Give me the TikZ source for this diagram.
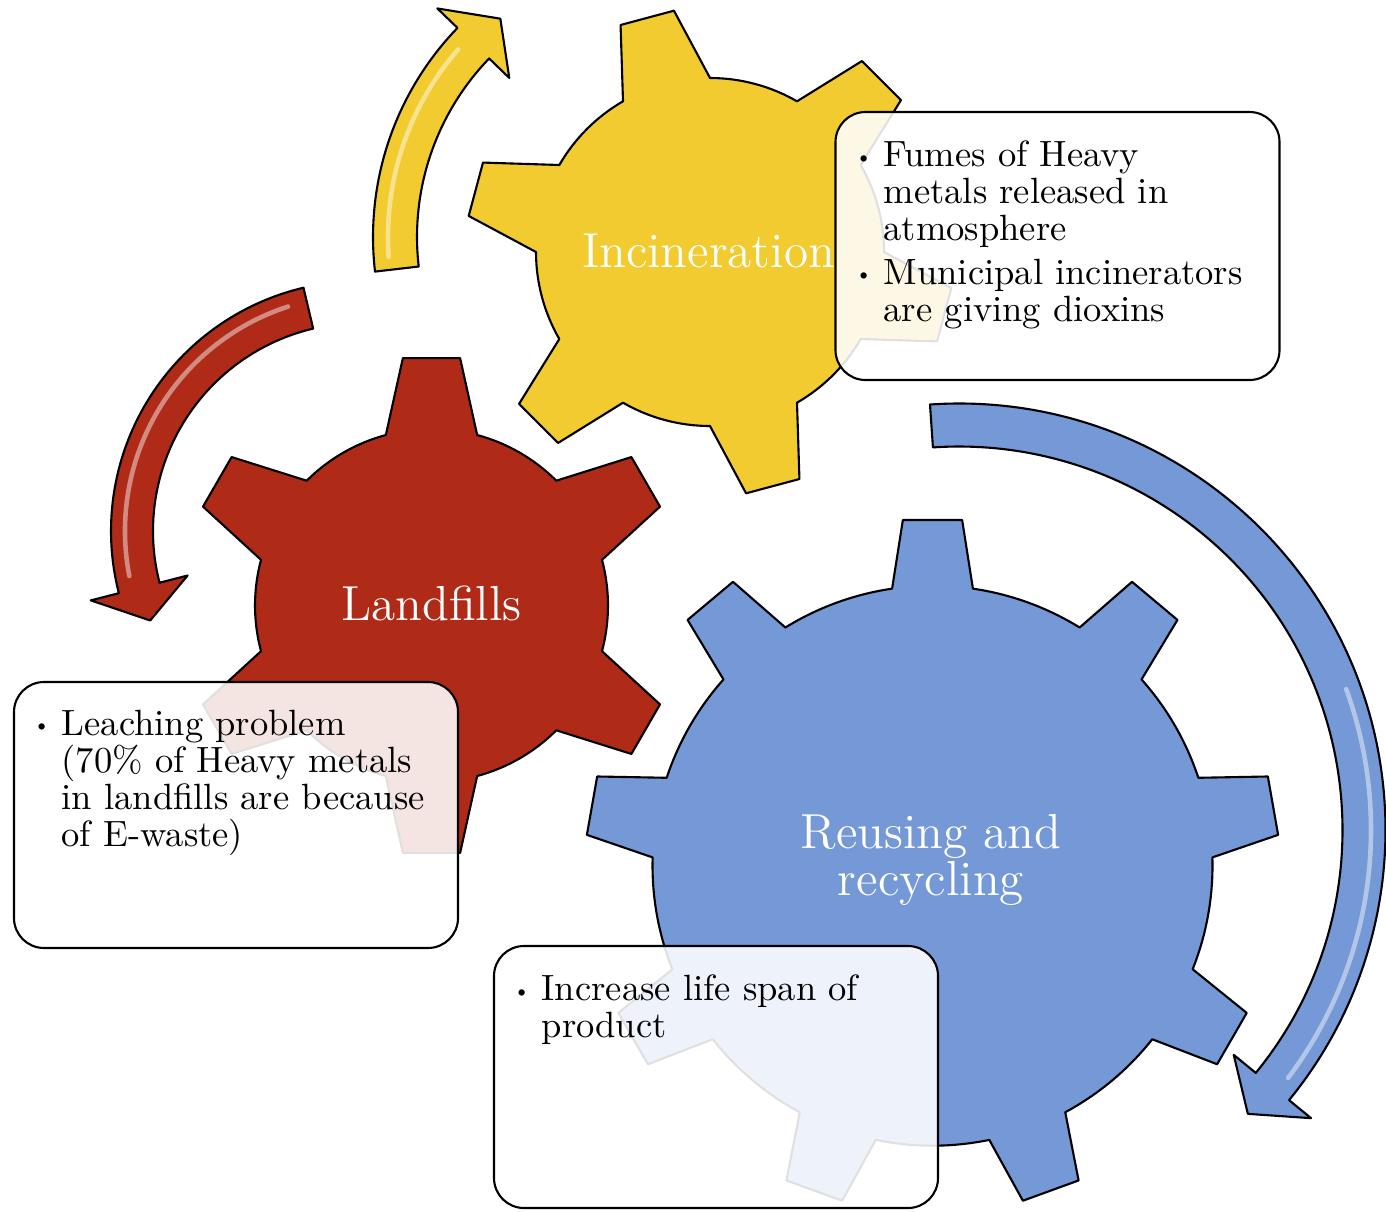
\documentclass[tikz,border=0pt]{standalone}
\usepackage{tikz}
\usepackage{xcolor}
\definecolor{gearyellow}{RGB}{242,203,48}
\definecolor{gearred}{RGB}{175,43,24}
\definecolor{gearblue}{RGB}{117,152,214}
\newcommand{\dotmark}{\llap{\raisebox{0.25ex}{\fontsize{6}{6}\selectfont\textbullet}\hspace{0.28em}}}

\begin{document}
\begin{tikzpicture}[
    outline/.style={draw=black, line width=0.6pt, line join=round},
    gloss/.style={draw=white, draw opacity=0.45, line width=1.3pt, line cap=round},
    gearlabel/.style={text=white, font=\fontsize{14}{13.6}\selectfont, align=center, inner sep=0pt},
    infobox/.style={draw=black, line width=0.6pt, rounded corners=0.3cm, fill=white, fill opacity=0.88, inner sep=0pt, minimum width=4.44cm},
    boxtext/.style={font=\fontsize{10.4}{10.5}\selectfont, align=left, inner sep=0pt, anchor=north west}
  ]
    \useasboundingbox (0,0) rectangle (13.86,12.11);
    \draw[outline, fill=gearyellow, shift={(6.74,9.74)}] (186.6:3.01) arc[start angle=186.6, end angle=136, radius=3.01] -- (136:3.29) -- (128.5:2.79) -- (136:2.29) -- (136:2.57) arc[start angle=136, end angle=186.6, radius=2.57] -- cycle;
    \draw[gloss, shift={(6.74,9.74)}] (184:2.86) arc[start angle=184, end angle=139, radius=2.86];
    \draw[outline, fill=gearred, shift={(3.61,6.80)}] (103.3:2.50) arc[start angle=103.3, end angle=194.4, radius=2.50] -- (194.4:2.79) -- (203:2.29) -- (194.4:1.79) -- (194.4:2.08) arc[start angle=194.4, end angle=103.3, radius=2.08] -- cycle;
    \draw[gloss, shift={(3.61,6.80)}] (108:2.36) arc[start angle=108, end angle=191, radius=2.36];
    \draw[outline, fill=gearblue, shift={(9.59,3.81)}] (93.9:4.265) arc[start angle=93.9, end angle=-39.3, radius=4.265] -- (-39.3:4.55) -- (-44.5:4.05) -- (-39.3:3.55) -- (-39.3:3.835) arc[start angle=-39.3, end angle=93.9, radius=3.835] -- cycle;
    \draw[gloss, shift={(9.59,3.81)}] (20:4.12) arc[start angle=20, end angle=-37, radius=4.12];
    \draw[outline, fill=gearred, shift={(4.315,6.055)}] (15:1.765)
      \foreach \a in {30,90,...,330} { -- ({\a-15}:1.765) -- ({\a-6.6}:2.49) -- ({\a+6.6}:2.49) -- ({\a+15}:1.765) arc[start angle=\a+15, end angle=\a+45, radius=1.765] } -- cycle;
    \draw[outline, fill=gearyellow, shift={(7.10,9.59)}] (30:1.74)
      \foreach \a in {45,105,...,345} { -- ({\a-15}:1.74) -- ({\a-6.5}:2.44) -- ({\a+6.5}:2.44) -- ({\a+15}:1.74) arc[start angle=\a+15, end angle=\a+45, radius=1.74] } -- cycle;
    \draw[outline, fill=gearblue, shift={(9.325,3.453)}] (1.7:2.80)
      \foreach \a in {10,50,...,330} { -- ({\a-8.3}:2.80) -- ({\a-4.9}:3.47) -- ({\a+4.9}:3.47) -- ({\a+8.3}:2.80) arc[start angle=\a+8.3, end angle=\a+31.7, radius=2.80] } -- cycle;
    \node[gearlabel] (incineration) at (7.085,9.60) {Incineration};
    \node[gearlabel] (landfills) at (4.315,6.08) {Landfills};
    \node[gearlabel] (reusing) at (9.31,3.51) {Reusing and\\recycling};
    \node[infobox, minimum height=2.68cm] (fumesbox) at (10.575,9.65) {};
    \node[infobox, minimum height=2.66cm] (leachbox) at (2.36,3.96) {};
    \node[infobox, minimum height=2.62cm] (lifebox) at (7.16,1.34) {};
    \node[boxtext] (fumestext) at (8.83,10.705) {\dotmark Fumes of Heavy\\ metals released in\\ atmosphere\\[2pt] \dotmark Municipal incinerators\\ are giving dioxins};
    \node[boxtext] (leachtext) at (0.61,5.015) {\dotmark Leaching problem\\ (70\% of Heavy metals\\ in landfills are because\\ of E-waste)};
    \node[boxtext] (lifetext) at (5.41,2.365) {\dotmark Increase life span of\\ product};
  \end{tikzpicture}
\end{document}
